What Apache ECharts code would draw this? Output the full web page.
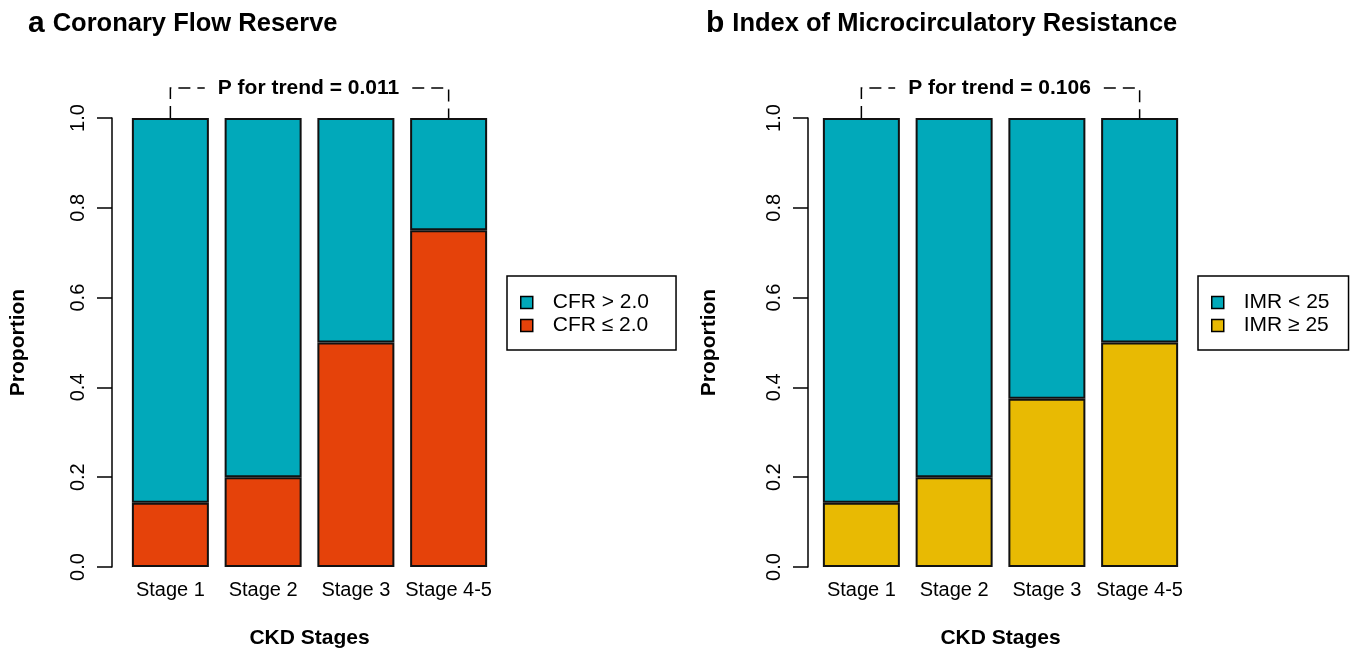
<!DOCTYPE html>
<html>
<head>
<meta charset="utf-8">
<script src="https://cdn.jsdelivr.net/npm/echarts@6/dist/echarts.min.js"></script>
<style>
html,body{margin:0;padding:0;background:#fff;}
#c{width:1359px;height:649px;}
</style>
</head>
<body>
<div id="c"></div>
<script>
// ---- data ----
const stages = ['Stage 1', 'Stage 2', 'Stage 3', 'Stage 4-5'];
const cfrLow = [0.143, 0.2, 0.5, 0.75];      // CFR ≤ 2.0
const cfrHigh = [0.857, 0.8, 0.5, 0.25];     // CFR > 2.0
const imrHigh = [0.143, 0.2, 0.375, 0.5];    // IMR ≥ 25
const imrLow = [0.857, 0.8, 0.625, 0.5];     // IMR < 25
const yTickLabels = ['0.0', '0.2', '0.4', '0.6', '0.8', '1.0'];
const panelTitles = ['Coronary Flow Reserve', 'Index of Microcirculatory Resistance'];
const panelLetters = ['a', 'b'];
const pTrend = ['P for trend = 0.011', 'P for trend = 0.106'];
const legendNames = [['CFR > 2.0', 'CFR ≤ 2.0'], ['IMR < 25', 'IMR ≥ 25']];

const FONT = '"Liberation Sans", Arial, Helvetica, sans-serif';
const TEAL = '#01A9BA';
const ORANGE = '#E5420A';
const YELLOW = '#E8BA03';

const chart = echarts.init(document.getElementById('c'), null, {renderer: 'canvas'});

function yAxisCfg(gridIndex, offset, nameGap) {
  return {
    type: 'value', gridIndex, min: 0, max: 1, interval: 0.2, offset,
    name: 'Proportion', nameLocation: 'middle', nameRotate: 90, nameGap,
    nameTextStyle: {fontFamily: FONT, fontSize: 21, fontWeight: 'bold', color: '#000'},
    axisLine: {show: true, lineStyle: {color: '#000', width: 1.5}},
    axisTick: {show: true, length: 15, lineStyle: {color: '#000', width: 1.5}},
    axisLabel: {rotate: 90, margin: 24, fontFamily: FONT, fontSize: 20, color: '#000',
      formatter: v => yTickLabels[Math.round(v / 0.2)]},
    splitLine: {show: false}
  };
}
function xAxisCfg(gridIndex) {
  return {
    type: 'category', gridIndex, data: stages,
    name: 'CKD Stages', nameLocation: 'middle', nameGap: 61,
    nameTextStyle: {fontFamily: FONT, fontSize: 21, fontWeight: 'bold', color: '#000'},
    axisLine: {show: false}, axisTick: {show: false},
    axisLabel: {margin: 13, fontFamily: FONT, fontSize: 20, color: '#000', interval: 0}
  };
}
const barStyle = c => ({color: c, borderColor: '#111', borderWidth: 2});

const option = {
  animation: false,
  backgroundColor: '#fff',
  title: [0, 1].map(i => ({
    left: i === 0 ? 23 : 701, top: 1,
    text: '{l|' + panelLetters[i] + '} {t|' + panelTitles[i] + '}',
    textStyle: {rich: {
      l: {fontFamily: FONT, fontSize: 30, fontWeight: 'bold', color: '#000', lineHeight: 36},
      t: {fontFamily: FONT, fontSize: 25.5, fontWeight: 'bold', color: '#000', lineHeight: 36, padding: [0, 0, 0, 3]}
    }}
  })),
  grid: [
    {left: 124, top: 118, width: 371, height: 449, outerBoundsMode: 'none'},
    {left: 815, top: 118, width: 371, height: 449, outerBoundsMode: 'none'}
  ],
  xAxis: [xAxisCfg(0), xAxisCfg(1)],
  yAxis: [yAxisCfg(0, 12, 83), yAxisCfg(1, 7, 88)],
  legend: [0, 1].map(i => ({
    orient: 'vertical',
    left: i === 0 ? 507 : 1198, top: 276,
    data: legendNames[i],
    icon: 'rect', itemWidth: 12, itemHeight: 12, itemGap: 2,
    padding: i === 0 ? [16, 27, 14, 13] : [16, 19, 14, 13],
    borderColor: '#000', borderWidth: 1.5, borderRadius: 0,
    itemStyle: {borderColor: '#000', borderWidth: 1.5},
    textStyle: {fontFamily: FONT, fontSize: 21, color: '#000', padding: [0, 0, 0, 15]}
  })),
  series: [
    {name: legendNames[0][1], type: 'bar', xAxisIndex: 0, yAxisIndex: 0, stack: 'a', barWidth: 77,
      data: cfrLow, itemStyle: barStyle(ORANGE)},
    {name: legendNames[0][0], type: 'bar', xAxisIndex: 0, yAxisIndex: 0, stack: 'a', barWidth: 77,
      data: cfrHigh, itemStyle: barStyle(TEAL)},
    {name: legendNames[1][1], type: 'bar', xAxisIndex: 1, yAxisIndex: 1, stack: 'b', barWidth: 77,
      data: imrHigh, itemStyle: barStyle(YELLOW)},
    {name: legendNames[1][0], type: 'bar', xAxisIndex: 1, yAxisIndex: 1, stack: 'b', barWidth: 77,
      data: imrLow, itemStyle: barStyle(TEAL)}
  ]
};
chart.setOption(option);

// P-for-trend brackets, positioned through the axes
const mctx = document.createElement('canvas').getContext('2d');
mctx.font = 'bold 21px ' + FONT;
const graphics = [];
[0, 1].forEach(g => {
  const xA = chart.convertToPixel({xAxisIndex: g}, stages[0]);
  const xB = chart.convertToPixel({xAxisIndex: g}, stages[stages.length - 1]);
  const yTop = chart.convertToPixel({yAxisIndex: g}, 1);
  const yLine = yTop - 30;
  const cx = (xA + xB) / 2 - 1;
  const w = mctx.measureText(pTrend[g]).width;
  const gap = 13;
  const ls = {stroke: '#000', lineWidth: 1.5, lineDash: [12, 7]};
  graphics.push({type: 'polyline', silent: true,
    shape: {points: [[xA, yTop], [xA, yLine], [cx - w / 2 - gap, yLine]]}, style: ls});
  graphics.push({type: 'polyline', silent: true,
    shape: {points: [[cx + w / 2 + gap, yLine], [xB, yLine], [xB, yTop]]}, style: ls});
  graphics.push({type: 'text', silent: true, x: cx, y: yLine,
    style: {text: pTrend[g], font: 'bold 21px ' + FONT, fill: '#000', align: 'center', verticalAlign: 'middle'}});
});
chart.setOption({graphic: graphics});
</script>
</body>
</html>
